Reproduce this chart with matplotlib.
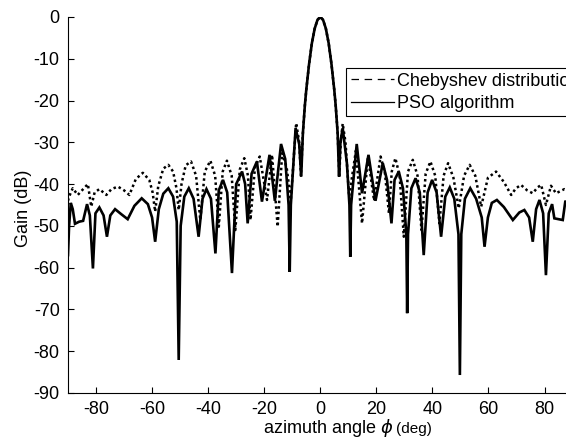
#!/usr/bin/env python3

# Array pattern: Chebyshev taper vs PSO optimised weights.
# Values (peaks, nulls and a few shoulders).

import matplotlib
matplotlib.use('Agg')
import matplotlib.pyplot as plt
from matplotlib.lines import Line2D

# PSO algorithm (solid)
pso_deg = [
  -90.0, -89.6, -89.0, -88.3, -87.5, -86.0, -84.6, -83.2, -82.2, -81.1,
  -80.2, -78.8, -77.3, -76.1, -74.9, -73.2, -71.0, -68.7, -66.3, -63.7,
  -61.5, -60.0, -58.9, -57.6, -56.0, -54.2, -52.5, -51.2, -50.5, -49.8,
  -48.5, -46.9, -45.2, -43.4, -42.0, -40.6, -39.0, -37.4, -36.2, -34.7,
  -33.2, -31.5, -30.0, -27.9, -26.8, -25.9, -24.5, -22.6, -20.8, -18.1,
  -16.2, -14.0, -12.5, -11.3, -10.9, -10.5, -8.8, -7.5, -6.8,
  -6.2, -5.5, -5.0, -4.0, -3.0, -2.0, -1.0, 0.0, 1.0, 2.0, 3.0, 4.0,
  5.0, 5.5, 6.2,
  6.7, 7.2, 8.0, 9.5, 10.4, 10.7, 11.0, 13.0, 14.9, 17.2,
  19.7, 22.3, 23.8, 25.4, 26.5, 28.0, 29.5, 30.7, 31.0, 31.3,
  32.5, 34.0, 35.5, 36.9, 38.3, 39.9, 41.5, 43.1, 44.6, 46.2,
  47.8, 49.3, 49.8, 50.3, 51.6, 53.5, 55.6, 57.6, 58.6, 59.8,
  61.2, 63.0, 65.5, 68.7, 71.0, 72.8, 74.5, 75.8, 77.0, 78.2,
  79.5, 80.5, 81.5, 82.7, 83.5, 86.5, 87.4, 90.0]
pso_db = [
  -57.0, -50.0, -44.5, -46.0, -49.5, -49.0, -48.8, -44.8, -47.5, -60.2,
  -47.0, -45.6, -47.5, -52.6, -47.5, -46.0, -47.2, -48.4, -45.2, -43.4,
  -44.8, -48.0, -53.8, -46.0, -42.3, -41.0, -43.0, -49.0, -82.1, -50.0,
  -43.0, -41.0, -43.5, -52.6, -43.5, -41.2, -43.5, -56.6, -41.5, -39.0,
  -42.0, -61.3, -40.0, -37.0, -40.0, -49.4, -37.5, -34.6, -44.2, -33.0,
  -44.0, -30.4, -34.0, -45.0, -61.0, -45.0, -26.6, -30.5, -38.2,
  -27.8, -21.2, -17.5, -11.3, -6.3, -2.8, -0.7, 0.0, -0.7, -2.8, -6.3, -11.3,
  -17.5, -21.2, -27.8,
  -38.2, -30.0, -26.6, -35.0, -45.0, -57.4, -45.0, -30.4, -42.2, -33.0,
  -44.0, -35.0, -39.0, -49.4, -39.0, -37.0, -41.0, -52.0, -70.9, -52.0,
  -41.0, -38.6, -42.0, -57.0, -42.0, -39.0, -42.0, -52.6, -43.0, -40.8,
  -43.5, -52.0, -85.7, -52.0, -43.5, -41.0, -43.5, -48.0, -55.0, -48.0,
  -44.5, -43.8, -45.5, -48.6, -46.8, -46.2, -48.0, -53.8, -46.0, -43.8,
  -47.0, -61.8, -47.0, -44.8, -48.2, -48.6, -44.2, -44.0]

# Chebyshev distribution (dotted)
cheb_deg = [
  -90.0, -89.6, -88.3, -86.5, -85.0, -82.9, -81.7, -80.5, -78.8, -76.3,
  -74.5, -72.2, -70.0, -68.1, -65.8, -63.3, -61.0, -59.8, -58.9, -57.8,
  -56.0, -54.2, -52.5, -51.3, -50.5, -49.5, -48.0, -46.1, -44.3, -42.8,
  -41.2, -39.2, -37.5, -36.2, -34.8, -33.3, -31.6, -30.3, -28.7, -27.1,
  -25.8, -24.9, -23.3, -21.6, -19.0, -17.2, -15.2, -13.6, -12.0, -10.5,
  -8.6, -7.5, -6.9,
  -6.2, -5.5, -5.0, -4.0, -3.0, -2.0, -1.0, 0.0, 1.0, 2.0, 3.0, 4.0,
  5.0, 5.5, 6.2,
  6.8, 7.3, 8.0, 9.0, 10.3, 12.7, 14.9, 17.0, 19.2, 21.5,
  23.0, 24.5, 25.5, 26.8, 28.3, 29.8, 31.3, 33.0, 34.7, 36.1,
  37.6, 39.3, 41.0, 42.5, 44.0, 45.6, 47.5, 49.4, 51.3, 53.3,
  55.3, 57.4, 59.8, 62.7, 65.5, 68.1, 69.8, 71.6, 73.8, 75.8,
  77.5, 78.8, 80.5, 82.3, 84.1, 87.1, 90.0]
cheb_db = [
  -44.0, -43.0, -41.0, -42.6, -41.5, -40.0, -45.4, -42.0, -41.2, -42.6,
  -41.2, -40.6, -41.5, -42.6, -38.8, -37.3, -39.0, -42.0, -46.6, -40.5,
  -36.3, -35.4, -37.0, -41.0, -46.2, -40.0, -35.5, -34.6, -38.0, -48.6,
  -37.0, -34.4, -38.0, -50.2, -37.0, -34.4, -38.0, -51.0, -36.5, -33.8,
  -38.0, -48.6, -36.0, -33.4, -43.8, -33.0, -50.2, -32.6, -36.0, -43.8,
  -25.4, -30.0, -38.0,
  -27.8, -21.2, -17.5, -11.3, -6.3, -2.8, -0.7, 0.0, -0.7, -2.8, -6.3, -11.3,
  -17.5, -21.2, -27.8,
  -38.0, -30.0, -25.5, -30.0, -43.0, -32.0, -49.4, -33.4, -44.0, -33.4,
  -37.0, -47.0, -37.0, -33.8, -38.0, -52.6, -37.0, -34.2, -38.0, -51.0,
  -37.5, -34.6, -38.0, -49.4, -38.0, -35.0, -38.5, -45.8, -38.0, -35.4,
  -38.0, -45.4, -38.5, -37.0, -39.5, -42.6, -41.0, -40.2, -41.5, -42.2,
  -40.8, -40.2, -45.0, -40.4, -42.2, -41.2, -42.0]

x_ticks = [-80, -60, -40, -20, 0, 20, 40, 60, 80]
y_ticks = [0, -10, -20, -30, -40, -50, -60, -70, -80, -90]


def main():
  plt.rcParams['font.family'] = ['Liberation Sans', 'DejaVu Sans']
  plt.rcParams['mathtext.fontset'] = 'dejavusans'
  # plain hyphen for negative ticks, like the original
  plt.rcParams['axes.unicode_minus'] = False

  fig = plt.figure(figsize=(5.66, 4.43), dpi=100)
  # Axes runs a little past the right edge of the picture, as in the original
  ax = fig.add_axes([0.1201, 0.1129, 0.8915, 0.8488])

  ax.plot(pso_deg, pso_db, color='k', lw=1.9, solid_joinstyle='miter')
  ax.plot(cheb_deg, cheb_db, color='k', lw=1.8, linestyle=(0, (1.0, 1.2)))

  ax.set_xlim(-90, 90)
  ax.set_ylim(-90, 0)
  ax.set_xticks(x_ticks)
  ax.set_yticks(y_ticks)

  # MATLAB look: box off, ticks inward
  ax.spines['top'].set_visible(False)
  ax.spines['right'].set_visible(False)
  for s in ('left', 'bottom'):
    ax.spines[s].set_linewidth(0.8)
  ax.tick_params(direction='in', length=4, width=0.8, labelsize=13, pad=6)

  ax.set_ylabel('Gain (dB)', fontsize=13)
  ax.yaxis.set_label_coords(-0.072, 0.49)

  fig.text(393 / 566, 1 - 433 / 443, r'azimuth angle $\phi$', fontsize=13,
    ha='right', va='baseline')
  fig.text(396 / 566, 1 - 433 / 443, '(deg)', fontsize=11,
    ha='left', va='baseline')

  handles = [Line2D([], [], color='k', lw=0.9, linestyle=(0, (6, 4.5))),
             Line2D([], [], color='k', lw=0.9)]
  leg = ax.legend(handles, ['Chebyshev distribution', 'PSO algorithm'],
    loc='upper left', bbox_to_anchor=(346 / 566, 1 - 68 / 443),
    bbox_transform=fig.transFigure, borderaxespad=0, fontsize=13,
    frameon=True, fancybox=False, borderpad=0.25, labelspacing=0.3,
    handlelength=2.4, handletextpad=0.2)
  leg.get_frame().set_edgecolor('k')
  leg.get_frame().set_linewidth(0.8)
  leg.get_frame().set_alpha(1)

  plt.savefig('out.png', dpi=100)


if __name__ == '__main__':
  main()
